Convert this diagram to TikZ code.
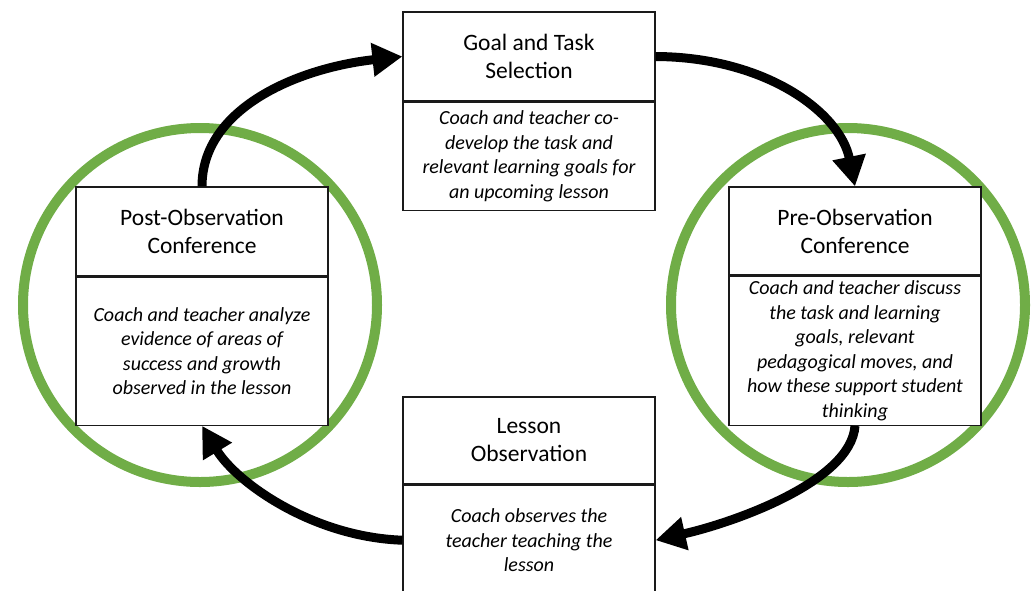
\documentclass[tikz,border=0pt]{standalone}
\usepackage{fontspec}
\setmainfont{Carlito}
\usetikzlibrary{arrows.meta}
\definecolor{ringgreen}{HTML}{70AD47}
\definecolor{boxline}{HTML}{1A1A1A}
\tikzset{
  ring/.style={draw=ringgreen, line width=10pt},
  headbox/.style={draw=boxline, fill=white, line width=1.2pt, minimum width=252pt,
    align=center, inner sep=2pt, font=\fontsize{23.5}{28}\selectfont},
  notebox/.style={draw=boxline, fill=white, line width=1.2pt, minimum width=252pt,
    align=center, inner sep=2pt, font=\fontsize{20}{24.5}\selectfont\itshape},
  flow/.style={draw=black, line width=9pt, -{Triangle[length=30pt,width=32pt]}},
}
\begin{document}
\begin{tikzpicture}[x=1pt,y=1pt]
\useasboundingbox (0,0) rectangle (1032,-590);
\clip (0,0) rectangle (1032,-590);

% the two green rings
\draw[ring] (200,-305) circle (177);
\draw[ring] (848,-305) circle (177);

% Goal and Task Selection
\node[headbox, minimum height=89pt] (goal) at (529,-56.5) {Goal and Task\\Selection};
\node[notebox, minimum height=108pt, anchor=north] (goalnote) at (goal.south)
  {Coach and teacher co-\\develop the task and\\relevant learning goals for\\an upcoming lesson};

% Pre-Observation Conference
\node[headbox, minimum height=88pt] (pre) at (855,-231) {Pre-Observation\\Conference};
\node[notebox, minimum height=149pt, anchor=north] (prenote) at (pre.south)
  {Coach and teacher discuss\\the task and learning\\goals, relevant\\pedagogical moves, and\\how these support student\\thinking};

% Post-Observation Conference
\node[headbox, minimum height=89pt] (post) at (202,-231.5) {Post-Observation\\Conference};
\node[notebox, minimum height=148pt, anchor=north] (postnote) at (post.south)
  {Coach and teacher analyze\\evidence of areas of\\success and growth\\observed in the lesson};

% Lesson Observation
\node[headbox, minimum height=87pt] (lesson) at (529,-440.5) {Lesson\\Observation};
\node[notebox, minimum height=110pt, anchor=north] (lessonnote) at (lesson.south)
  {Coach observes the\\teacher teaching the\\lesson};

% cycle arrows, each bent like a quarter ellipse
\draw[flow] (post.north) .. controls (202,-108) and (298,-68) .. (goal.west);
\draw[flow] (goal.east) .. controls (765,-57) and (840,-112) .. (pre.north);
\draw[flow] (prenote.south) .. controls (851,-482) and (732,-523) .. (lessonnote.east);
\draw[flow] (lessonnote.west) .. controls (312,-537) and (236,-482) .. (postnote.south);
\end{tikzpicture}
\end{document}
